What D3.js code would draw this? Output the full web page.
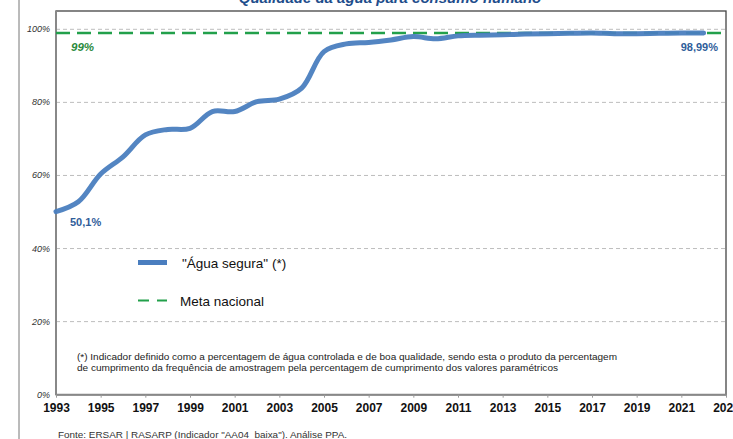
<!DOCTYPE html>
<html><head><meta charset="utf-8">
<script src="https://cdn.jsdelivr.net/npm/d3@7"></script>
<style>body{margin:0;background:#fff;}svg{display:block;font-family:Arial,"Liberation Sans",sans-serif;}</style>
</head><body>
<script>
const years = [1993,1994,1995,1996,1997,1998,1999,2000,2001,2002,2003,2004,2005,2006,2007,2008,2009,2010,2011,2012,2013,2014,2015,2016,2017,2018,2019,2020,2021,2022];
const aguaSegura = [50.1,52.8,60.4,65.1,71.1,72.6,72.9,77.5,77.5,80.2,80.9,83.9,93.9,96.0,96.4,97.1,98.0,97.4,98.2,98.4,98.5,98.7,98.8,98.9,99.0,98.8,98.8,98.9,99.0,98.99];
const meta = 99;
const xTicks = [1993,1995,1997,1999,2001,2003,2005,2007,2009,2011,2013,2015,2017,2019,2021,2023];
const yTicks = [0,20,40,60,80,100];

const W=733,H=439;
const svg=d3.select("body").append("svg").attr("width",W).attr("height",H);
const L=56,R=726,T=11,B=394.7;
const x=d3.scaleLinear().domain([1993,2023]).range([L,R]);
const y=d3.scaleLinear().domain([0,100]).range([B,B-365.4]);

// outer frame left line
svg.append("line").attr("x1",19).attr("x2",19).attr("y1",0).attr("y2",H).attr("stroke","#777").attr("stroke-width",1);

// title
svg.append("text").attr("x",390).attr("y",2.5).attr("text-anchor","middle")
  .attr("font-size",15).attr("font-weight","bold").attr("font-style","italic").attr("fill","#1f4e8c")
  .text("Qualidade da água para consumo humano");

// gridlines
svg.append("g").selectAll("line").data(yTicks.filter(d=>d>0)).join("line")
  .attr("x1",L).attr("x2",R).attr("y1",d=>y(d)).attr("y2",d=>y(d))
  .attr("stroke","#bdbdbd").attr("stroke-dasharray","4,3").attr("stroke-width",1);

// plot border
svg.append("rect").attr("x",L).attr("y",T).attr("width",R-L).attr("height",B-T)
  .attr("fill","none").attr("stroke","#444").attr("stroke-width",1.3);
svg.append("line").attr("x1",L).attr("x2",R).attr("y1",B).attr("y2",B).attr("stroke","#888").attr("stroke-width",2);
svg.append("line").attr("x1",L).attr("x2",L).attr("y1",T).attr("y2",B).attr("stroke","#888").attr("stroke-width",2);

// y axis labels
svg.append("g").selectAll("text").data(yTicks).join("text")
  .attr("x",L-6).attr("y",d=>y(d)+3).attr("text-anchor","end")
  .attr("font-size",9).attr("font-style","italic").attr("fill","#333")
  .text(d=>d+"%");

// x axis
const xa=d3.axisBottom(x).tickValues(xTicks).tickFormat(d3.format("d")).tickSize(3).tickPadding(6);
const gx=svg.append("g").attr("transform",`translate(0,${B})`).call(xa);
gx.select(".domain").remove();
gx.selectAll(".tick line").attr("stroke","#999");
gx.selectAll(".tick text").attr("font-size",12).attr("font-weight","bold").attr("fill","#111").attr("font-family","Arial,'Liberation Sans',sans-serif");

// meta line
svg.append("line").attr("x1",L).attr("x2",R).attr("y1",y(meta)).attr("y2",y(meta))
  .attr("stroke","#22a04b").attr("stroke-width",2.5).attr("stroke-dasharray","14,7");

// data line
const line=d3.line().x((d,i)=>x(years[i])).y(d=>y(d)).curve(d3.curveCatmullRom.alpha(0.5));
svg.append("path").datum(aguaSegura).attr("d",line).attr("fill","none")
  .attr("stroke","#4a7ebf").attr("stroke-width",5).attr("stroke-linecap","round").attr("stroke-opacity",0.95);

// labels
svg.append("text").attr("x",71).attr("y",51).attr("font-size",11.5).attr("font-weight","bold").attr("font-style","italic").attr("fill","#2a8a3c").text("99%");
svg.append("text").attr("x",70).attr("y",226).attr("font-size",11).attr("font-weight","bold").attr("fill","#2f5d9a").text("50,1%");
svg.append("text").attr("x",718).attr("y",51).attr("text-anchor","end").attr("font-size",11).attr("font-weight","bold").attr("fill","#2f5d9a").text("98,99%");

// legend
svg.append("line").attr("x1",138).attr("x2",167).attr("y1",262.5).attr("y2",262.5).attr("stroke","#4a7ebf").attr("stroke-width",5);
svg.append("text").attr("x",182).attr("y",267.5).attr("font-size",13.5).attr("fill","#111").text("\"Água segura\" (*)");
svg.append("line").attr("x1",138).attr("x2",167).attr("y1",300.5).attr("y2",300.5).attr("stroke","#22a04b").attr("stroke-width",2).attr("stroke-dasharray","11,8");
svg.append("text").attr("x",180).attr("y",305.5).attr("font-size",13.5).attr("fill","#111").text("Meta nacional");

// footnote
svg.append("text").attr("x",77).attr("y",359.5).attr("font-size",9.5).attr("fill","#222")
  .attr("textLength",540).attr("lengthAdjust","spacingAndGlyphs")
  .text("(*) Indicador definido como a percentagem de água controlada e de boa qualidade, sendo esta o produto da percentagem");
svg.append("text").attr("x",77).attr("y",370.5).attr("font-size",9.5).attr("fill","#222")
  .attr("textLength",481).attr("lengthAdjust","spacingAndGlyphs")
  .text("de cumprimento da frequência de amostragem pela percentagem de cumprimento dos valores paramétricos");

// source
svg.append("text").attr("x",58).attr("y",437.5).attr("font-size",9.5).attr("fill","#333")
  .attr("textLength",289).attr("lengthAdjust","spacingAndGlyphs")
  .text("Fonte: ERSAR | RASARP (Indicador \"AA04_baixa\"). Análise PPA.");
</script>
</body></html>
